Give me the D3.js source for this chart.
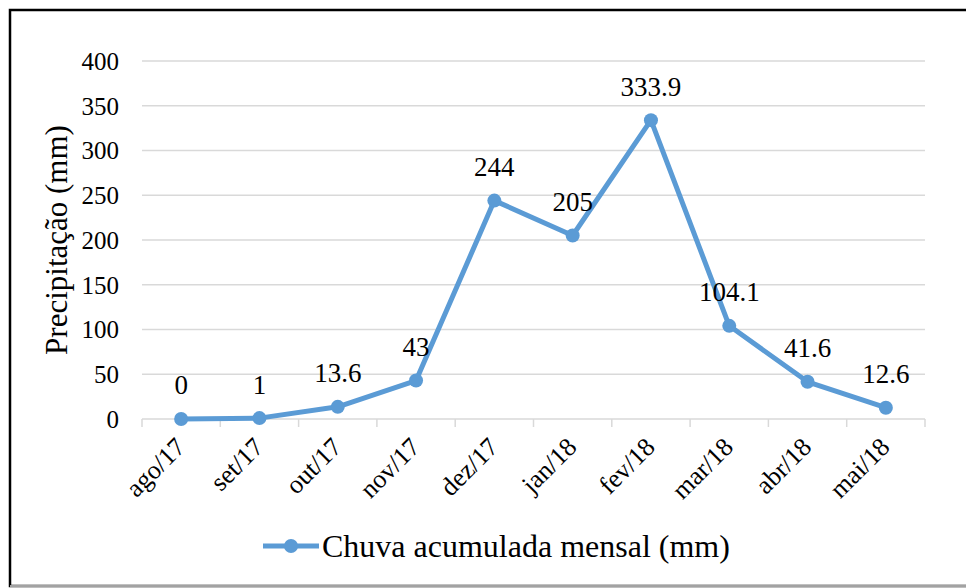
<!DOCTYPE html>
<html>
<head>
<meta charset="utf-8">
<script src="https://cdn.jsdelivr.net/npm/d3@7"></script>
<style>
  body { margin: 0; background: #fff; }
</style>
</head>
<body>
<div id="chart"></div>
<script>
// Chart data
var months = ["ago/17", "set/17", "out/17", "nov/17", "dez/17", "jan/18", "fev/18", "mar/18", "abr/18", "mai/18"];
var rain = [0, 1, 13.6, 43, 244, 205, 333.9, 104.1, 41.6, 12.6];
var rainLabels = ["0", "1", "13.6", "43", "244", "205", "333.9", "104.1", "41.6", "12.6"];
var yTicks = [0, 50, 100, 150, 200, 250, 300, 350, 400];
var seriesName = "Chuva acumulada mensal (mm)";

var width = 966, height = 588;
var margin = { left: 142, right: 41, top: 61, bottom: 169 };
var blue = "#5b9bd5";
var serif = "Liberation Serif";

var svg = d3.select("#chart").append("svg")
  .attr("width", width)
  .attr("height", height);

// Frame
svg.append("rect")
  .attr("x", 10).attr("y", 10)
  .attr("width", width + 20).attr("height", 576)
  .attr("fill", "#fff")
  .attr("stroke", "#000")
  .attr("stroke-width", 2.5);
svg.append("line")
  .attr("x1", 10).attr("x2", width)
  .attr("y1", 586).attr("y2", 586)
  .attr("stroke", "#d9d9d9").attr("stroke-width", 1.5);

var x = d3.scaleBand()
  .domain(months)
  .range([margin.left, width - margin.right]);

var y = d3.scaleLinear()
  .domain([0, 400])
  .range([height - margin.bottom, margin.top]);

// Gridlines
svg.append("g")
  .selectAll("line")
  .data(yTicks)
  .join("line")
  .attr("x1", margin.left)
  .attr("x2", width - margin.right)
  .attr("y1", d => y(d))
  .attr("y2", d => y(d))
  .attr("stroke", "#d9d9d9")
  .attr("stroke-width", 1.5);

// Y axis labels
svg.append("g")
  .selectAll("text")
  .data(yTicks)
  .join("text")
  .attr("x", 119)
  .attr("y", d => y(d))
  .attr("dy", "0.35em")
  .attr("text-anchor", "end")
  .style("font-family", serif)
  .style("font-size", "25px")
  .text(d => d);

// X axis tick marks at band edges
var edges = months.map(d => x(d)).concat([x.range()[1]]);
svg.append("g")
  .selectAll("line")
  .data(edges)
  .join("line")
  .attr("x1", d => d).attr("x2", d => d)
  .attr("y1", y(0)).attr("y2", y(0) + 8)
  .attr("stroke", "#d9d9d9")
  .attr("stroke-width", 1.5);

// X axis labels, rotated
svg.append("g")
  .selectAll("text")
  .data(months)
  .join("text")
  .attr("transform", d => "translate(" + (x(d) + x.bandwidth() / 2 - 1) + "," + (y(0) + 23) + ") rotate(-45)")
  .attr("text-anchor", "end")
  .attr("dy", "0.35em")
  .style("font-family", serif)
  .style("font-size", "26px")
  .text(d => d);

// Y axis title
svg.append("text")
  .attr("transform", "translate(56,240) rotate(-90)")
  .attr("text-anchor", "middle")
  .attr("dy", "0.35em")
  .style("font-family", serif)
  .style("font-size", "31px")
  .text("Precipitação (mm)");

// Line
var line = d3.line()
  .x((d, i) => x(months[i]) + x.bandwidth() / 2)
  .y(d => y(d));

svg.append("path")
  .datum(rain)
  .attr("d", line)
  .attr("fill", "none")
  .attr("stroke", blue)
  .attr("stroke-width", 5)
  .attr("stroke-linejoin", "round");

svg.append("g")
  .selectAll("circle")
  .data(rain)
  .join("circle")
  .attr("cx", (d, i) => x(months[i]) + x.bandwidth() / 2)
  .attr("cy", d => y(d))
  .attr("r", 7)
  .attr("fill", blue);

// Data labels
svg.append("g")
  .selectAll("text")
  .data(rain)
  .join("text")
  .attr("x", (d, i) => x(months[i]) + x.bandwidth() / 2)
  .attr("y", d => y(d) - 34)
  .attr("dy", "0.35em")
  .attr("text-anchor", "middle")
  .style("font-family", serif)
  .style("font-size", "27px")
  .text((d, i) => rainLabels[i]);

// Legend
var legend = svg.append("g").attr("transform", "translate(263,546)");
legend.append("line")
  .attr("x1", 0).attr("x2", 56)
  .attr("stroke", blue).attr("stroke-width", 5);
legend.append("circle")
  .attr("cx", 28).attr("r", 7).attr("fill", blue);
legend.append("text")
  .attr("x", 59)
  .attr("dy", "0.35em")
  .style("font-family", serif)
  .style("font-size", "32px")
  .text(seriesName);
</script>
</body>
</html>
